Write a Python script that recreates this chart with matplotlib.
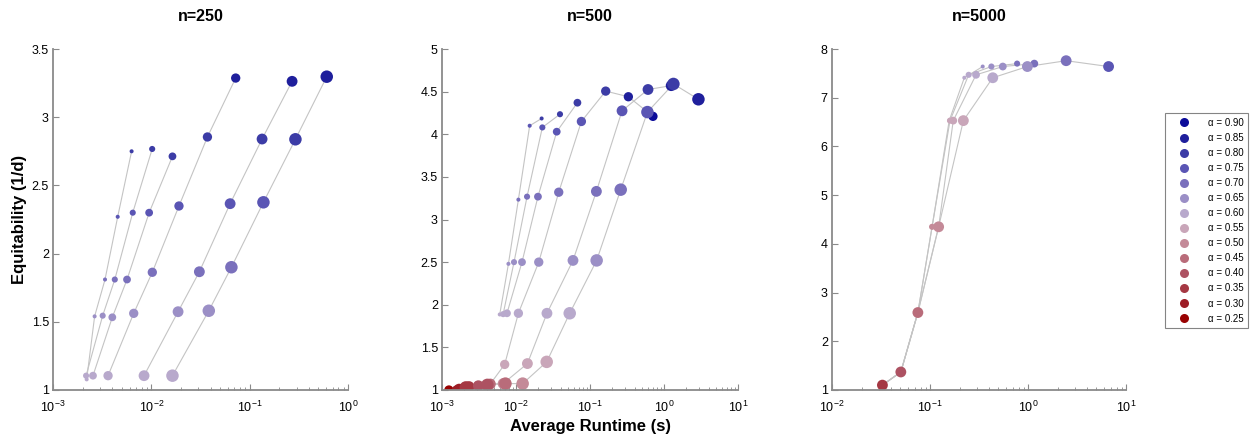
import matplotlib
matplotlib.use("Agg")
import matplotlib.pyplot as plt
from matplotlib.lines import Line2D
from matplotlib.ticker import FuncFormatter, LogLocator, MultipleLocator

plt.rcParams['font.family'] = ['Liberation Sans', 'DejaVu Sans']
plt.rcParams['mathtext.default'] = 'regular'

# ---------------- data ----------------
legend_alphas = [0.90, 0.85, 0.80, 0.75, 0.70, 0.65, 0.60, 0.55, 0.50, 0.45, 0.40, 0.35, 0.30, 0.25]
legend_colors = ['#0b0b99', '#1f1f9c', '#3c3ca6', '#5a55b4', '#7a70bc', '#9b8fc6', '#b8a9cc',
                 '#c9a6b9', '#c48a98', '#b96c7a', '#ad5262', '#a53843', '#9d1d26', '#990202']

panel_titles = ['n=250', 'n=500', 'n=5000']
panel_xlims = [(1e-3, 1e0), (1e-3, 1e1), (1e-2, 1e1)]
panel_ylims = [(1, 3.5), (1, 5), (1, 8)]
panel_ysteps = [0.5, 0.5, 1]

# marker diameter (pt) by solver setting (smallest -> largest)
series_sizes = [2.9, 4.4, 5.6, 6.7, 7.8, 9.0]

# n = 250
n250_size_idx = [0, 1, 2, 3, 4, 5]
n250_alpha = [
    [0.60, 0.65, 0.70, 0.75, 0.80],
    [0.60, 0.65, 0.70, 0.75, 0.80],
    [0.60, 0.65, 0.70, 0.75, 0.80],
    [0.60, 0.65, 0.70, 0.75, 0.80, 0.85],
    [0.60, 0.65, 0.70, 0.75, 0.80, 0.85],
    [0.60, 0.65, 0.70, 0.75, 0.80, 0.85],
]
n250_runtime = [
    [0.0022, 0.00265, 0.00338, 0.00455, 0.0063],
    [0.00217, 0.0032, 0.00425, 0.00647, 0.0102],
    [0.00255, 0.00401, 0.00566, 0.0095, 0.0164],
    [0.00363, 0.00662, 0.01023, 0.0191, 0.0372, 0.0721],
    [0.00843, 0.0187, 0.0308, 0.0633, 0.1337, 0.27],
    [0.0164, 0.0384, 0.0652, 0.138, 0.292, 0.608],
]
n250_equit = [
    [1.078, 1.54, 1.81, 2.27, 2.75],
    [1.105, 1.545, 1.81, 2.30, 2.767],
    [1.105, 1.533, 1.81, 2.30, 2.713],
    [1.105, 1.562, 1.863, 2.349, 2.855, 3.287],
    [1.105, 1.574, 1.867, 2.366, 2.84, 3.263],
    [1.105, 1.581, 1.90, 2.376, 2.838, 3.297],
]

# n = 500
n500_size_idx = [0, 1, 2, 3, 4, 5]
n500_alpha = [
    [0.60, 0.65, 0.70, 0.75, 0.80],
    [0.60, 0.65, 0.70, 0.75, 0.80],
    [0.60, 0.65, 0.70, 0.75, 0.80],
    [0.25, 0.30, 0.35, 0.40, 0.45, 0.50, 0.55, 0.60, 0.65, 0.70, 0.75, 0.80, 0.85, 0.90],
    [0.30, 0.35, 0.40, 0.45, 0.50, 0.55, 0.60, 0.65, 0.70, 0.75, 0.80, 0.85],
    [0.35, 0.40, 0.45, 0.50, 0.55, 0.60, 0.65, 0.70, 0.75, 0.80, 0.85],
]
n500_runtime = [
    [0.00603, 0.0079, 0.01077, 0.0153, 0.0222],
    [0.0067, 0.0094, 0.0141, 0.0227, 0.0393],
    [0.00755, 0.01205, 0.0198, 0.0355, 0.0676],
    [0.00124, 0.00157, 0.00203, 0.00307, 0.0040, 0.00453, 0.00703, 0.01077, 0.0203, 0.0378, 0.0765, 0.163, 0.330, 0.709],
    [0.0017, 0.00232, 0.0031, 0.0045, 0.0067, 0.01426, 0.0262, 0.0589, 0.122, 0.271, 0.608, 1.25],
    [0.0021, 0.0041, 0.0072, 0.0123, 0.026, 0.0532, 0.123, 0.260, 0.597, 1.34, 2.92],
]
n500_equit = [
    [1.886, 2.48, 3.233, 4.10, 4.185],
    [1.89, 2.50, 3.268, 4.08, 4.235],
    [1.90, 2.50, 3.268, 4.03, 4.37],
    [1.00, 1.00, 1.03, 1.05, 1.06, 1.075, 1.30, 1.90, 2.50, 3.32, 4.15, 4.506, 4.44, 4.21],
    [1.01, 1.04, 1.05, 1.07, 1.075, 1.31, 1.90, 2.52, 3.33, 4.275, 4.525, 4.57],
    [1.03, 1.06, 1.075, 1.075, 1.33, 1.90, 2.52, 3.35, 4.26, 4.59, 4.41],
]

# n = 5000
n5000_size_idx = [0, 1, 2, 4]
n5000_alpha = [
    [0.35, 0.40, 0.45, 0.50, 0.55, 0.60, 0.65],
    [0.35, 0.40, 0.45, 0.50, 0.55, 0.60, 0.65, 0.70],
    [0.35, 0.40, 0.45, 0.50, 0.55, 0.60, 0.65, 0.70],
    [0.35, 0.40, 0.45, 0.50, 0.55, 0.60, 0.65, 0.70, 0.75],
]
n5000_runtime = [
    [0.0327, 0.0504, 0.0752, 0.105, 0.157, 0.224, 0.345],
    [0.0327, 0.0504, 0.0752, 0.105, 0.160, 0.248, 0.423, 0.774],
    [0.0327, 0.0504, 0.0752, 0.1225, 0.1727, 0.295, 0.553, 1.16],
    [0.0327, 0.0504, 0.0752, 0.1225, 0.219, 0.437, 0.986, 2.45, 6.64],
]
n5000_equit = [
    [1.10, 1.37, 2.59, 4.35, 6.53, 7.41, 7.64],
    [1.10, 1.37, 2.59, 4.35, 6.53, 7.47, 7.64, 7.70],
    [1.10, 1.37, 2.59, 4.35, 6.53, 7.47, 7.64, 7.70],
    [1.10, 1.37, 2.59, 4.35, 6.53, 7.41, 7.64, 7.76, 7.64],
]

panels = [
    (n250_runtime, n250_equit, n250_alpha, n250_size_idx),
    (n500_runtime, n500_equit, n500_alpha, n500_size_idx),
    (n5000_runtime, n5000_equit, n5000_alpha, n5000_size_idx),
]

color_of = {round(a, 2): c for a, c in zip(legend_alphas, legend_colors)}

# ---------------- figure ----------------
W, H = 1252, 437
fig = plt.figure(figsize=(W / 100, H / 100), dpi=100)
axes_px = [(53, 49, 348, 390), (442, 49, 738, 390), (832, 49, 1126, 390)]

spine_col = '#8a8a8a'
for i, (xs, ys, als, sidx) in enumerate(panels):
    l, t, r, b = axes_px[i]
    ax = fig.add_axes([l / W, 1 - b / H, (r - l) / W, (b - t) / H])
    ax.set_xscale('log')
    for x, y in zip(xs, ys):
        ax.plot(x, y, '-', color='#c4c4c4', lw=0.8, zorder=1)
    for x, y, a, si in zip(xs, ys, als, sidx):
        cols = [color_of[round(v, 2)] for v in a]
        ax.scatter(x, y, s=series_sizes[si] ** 2, c=cols, edgecolors='none', zorder=2 + si * 0.01)
    ax.set_xlim(*panel_xlims[i])
    ax.set_ylim(*panel_ylims[i])
    ax.yaxis.set_major_locator(MultipleLocator(panel_ysteps[i]))
    ax.yaxis.set_major_formatter(FuncFormatter(lambda v, p: '%g' % v))
    ax.xaxis.set_major_locator(LogLocator(base=10, numticks=10))
    ax.xaxis.set_minor_locator(LogLocator(base=10, subs=range(2, 10), numticks=100))
    for s in ['top', 'right']:
        ax.spines[s].set_visible(False)
    for s in ['left', 'bottom']:
        ax.spines[s].set_color(spine_col)
        ax.spines[s].set_linewidth(1.3)
    ax.tick_params(which='major', direction='in', length=4, width=0.8, color=spine_col,
                   labelsize=9, labelcolor='black', pad=3)
    ax.tick_params(which='minor', direction='in', length=2.5, width=0.6, color=spine_col)
    ax.tick_params(axis='x', which='major', pad=7)
    ax.set_title(panel_titles[i], fontsize=11.5, fontweight='bold', pad=20)
    if i == 0:
        ax.set_ylabel('Equitability (1/d)', fontsize=12, fontweight='bold', labelpad=3)
    if i == 1:
        ax.set_xlabel('Average Runtime (s)', fontsize=12, fontweight='bold', labelpad=3)

handles = [Line2D([], [], ls='none', marker='o', markersize=6.5, markerfacecolor=c,
                  markeredgecolor='none') for c in legend_colors]
labels = ['α = %.2f' % a for a in legend_alphas]
leg = fig.legend(handles, labels, loc='upper left', bbox_to_anchor=(1165 / W, 1 - 113 / H),
                 borderaxespad=0, fontsize=7, frameon=True, fancybox=False,
                 edgecolor='#666666', labelspacing=0.52, handletextpad=0.9,
                 borderpad=0.5, handlelength=3.0)
leg.get_frame().set_linewidth(0.8)

fig.savefig('out.png', dpi=100)
